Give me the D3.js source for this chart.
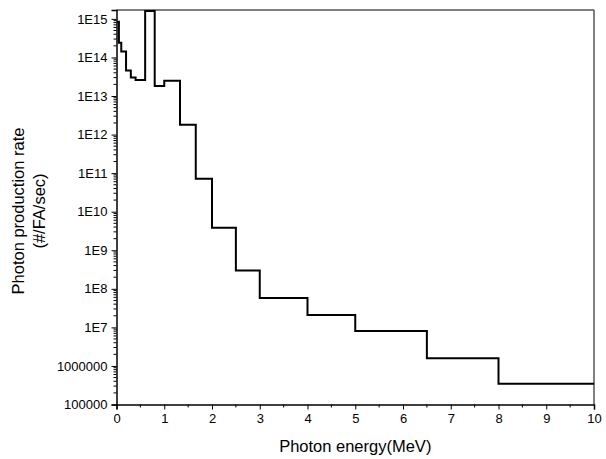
<!DOCTYPE html>
<html>
<head>
<meta charset="utf-8">
<script src="https://cdn.jsdelivr.net/npm/d3@7"></script>
<style>
body { margin: 0; background: #fff; }
svg { display: block; font-family: "Liberation Sans", Arial, sans-serif; }
</style>
</head>
<body>
<div class="chart"></div>
<script>
var width = 606;
var height = 459;

// group boundaries (MeV) and photon production rate per group
var energyBounds = [0.01, 0.05, 0.1, 0.2, 0.3, 0.4, 0.6, 0.8, 1.0, 1.33, 1.66, 2.0, 2.5, 3.0, 4.0, 5.0, 6.5, 8.0, 10.0];
var rates = [8.4e14, 2.4e14, 1.42e14, 4.6e13, 3.0e13, 2.6e13, 1.6e15, 1.83e13, 2.47e13, 1.81e12, 7.2e10, 3.86e9, 3.0e8, 5.8e7, 2.1e7, 8.1e6, 1.58e6, 3.47e5];

var xTicks = [0, 1, 2, 3, 4, 5, 6, 7, 8, 9, 10];
var yTicks = [1e5, 1e6, 1e7, 1e8, 1e9, 1e10, 1e11, 1e12, 1e13, 1e14, 1e15];

var svg = d3.select(".chart").append("svg")
  .attr("width", width)
  .attr("height", height);

var x = d3.scaleLinear()
  .domain([0, 10])
  .range([116.5, 594]);

var y = d3.scaleLog()
  .domain([1e5, 1.7e15])
  .range([404.5, 10]);

// step points: each group value starts at its lower bound
var pts = rates.map(function(r, i) { return [energyBounds[i], r]; });
pts.push([energyBounds[energyBounds.length - 1], rates[rates.length - 1]]);

svg.append("clipPath").attr("id", "clip")
  .append("rect")
  .attr("x", x(0)).attr("y", y(1.7e15) - 1)
  .attr("width", x(10) - x(0)).attr("height", y(1e5) - y(1.7e15) + 1);

// frame top and right
svg.append("line")
  .attr("x1", x(0)).attr("x2", x(10))
  .attr("y1", y(1.7e15)).attr("y2", y(1.7e15))
  .attr("stroke", "#555").attr("stroke-width", 1.5);
svg.append("line")
  .attr("x1", x(10)).attr("x2", x(10))
  .attr("y1", y(1.7e15)).attr("y2", y(1e5))
  .attr("stroke", "#555").attr("stroke-width", 1.5);

var line = d3.line()
  .x(function(d) { return x(d[0]); })
  .y(function(d) { return y(d[1]); })
  .curve(d3.curveStepAfter);

svg.append("path")
  .datum(pts)
  .attr("clip-path", "url(#clip)")
  .attr("fill", "none")
  .attr("stroke", "#000")
  .attr("stroke-width", 2)
  .attr("d", line);

// x axis
var xAxis = svg.append("g")
  .attr("transform", "translate(0," + y(1e5) + ")")
  .call(d3.axisBottom(x).tickValues(xTicks).tickSize(5).tickPadding(4).tickFormat(d3.format("d")));
xAxis.selectAll("text").attr("font-size", "13px").attr("font-family", null).attr("fill", "#000");

var xMinor = d3.range(0.5, 10, 1);
svg.append("g").selectAll("line")
  .data(xMinor)
  .enter().append("line")
  .attr("x1", function(d) { return x(d); })
  .attr("x2", function(d) { return x(d); })
  .attr("y1", y(1e5))
  .attr("y2", y(1e5) + 3)
  .attr("stroke", "#000");

// y axis
var yAxis = svg.append("g")
  .attr("transform", "translate(" + x(0) + ",0)")
  .call(d3.axisLeft(y).tickValues(yTicks).tickSize(5).tickPadding(4)
    .tickFormat(function(d) {
      var e = Math.round(Math.log10(d));
      return e < 7 ? String(Math.round(d)) : "1E" + e;
    }));
yAxis.selectAll("text").attr("font-size", "13px").attr("font-family", null).attr("fill", "#000");

var yMinor = [];
yTicks.forEach(function(t) {
  for (var k = 2; k <= 9; k++) {
    if (t * k <= 1.7e15) yMinor.push(t * k);
  }
});
svg.append("g").selectAll("line")
  .data(yMinor)
  .enter().append("line")
  .attr("x1", x(0) - 3)
  .attr("x2", x(0))
  .attr("y1", function(d) { return y(d); })
  .attr("y2", function(d) { return y(d); })
  .attr("stroke", "#000");

svg.selectAll(".domain").attr("stroke-width", 1.5);

// titles
svg.append("text")
  .attr("x", (x(0) + x(10)) / 2)
  .attr("y", 452)
  .attr("text-anchor", "middle")
  .attr("font-size", "16.5px")
  .text("Photon energy(MeV)");

var yt = svg.append("text")
  .attr("transform", "translate(24,211) rotate(-90)")
  .attr("text-anchor", "middle")
  .attr("font-size", "16.5px");
yt.append("tspan").attr("x", 0).attr("y", 0).text("Photon production rate");
yt.append("tspan").attr("x", 0).attr("y", 21).text("(#/FA/sec)");
</script>
</body>
</html>
